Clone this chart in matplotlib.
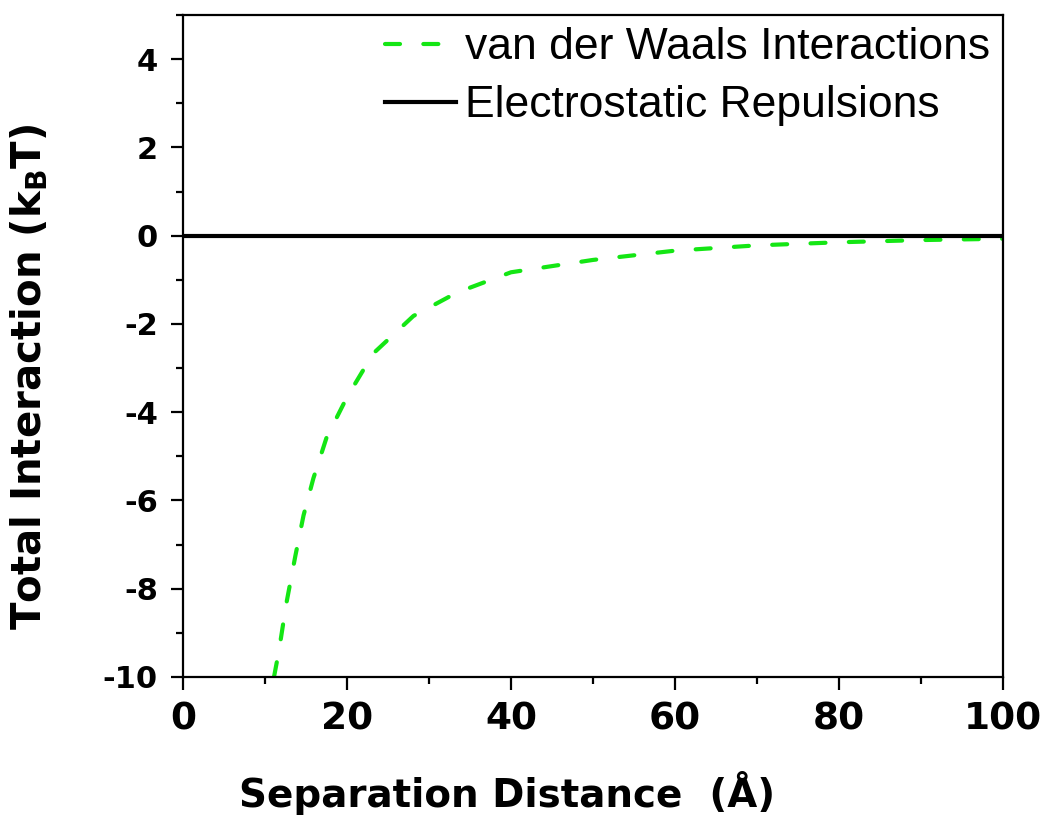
import matplotlib
matplotlib.use("Agg")
import matplotlib.pyplot as plt
from matplotlib.ticker import MultipleLocator

plt.rcParams['font.family'] = ['Liberation Sans', 'DejaVu Sans']
plt.rcParams['axes.unicode_minus'] = False
plt.rcParams['mathtext.fontset'] = 'custom'
plt.rcParams['mathtext.rm'] = 'DejaVu Sans:bold'
plt.rcParams['mathtext.bf'] = 'DejaVu Sans:bold'

# Separation distance (Å) and van der Waals interaction energy (kBT)
vdw_distance = [11.1, 11.7, 12.6, 13.7, 14.7, 15.9, 17.5, 20.0, 23.2, 28.1,
                33.4, 40.0, 50.0, 60.0, 70.0, 80.0, 90.0, 100.0]
vdw_energy = [-10.0, -9.41, -8.34, -7.26, -6.34, -5.5, -4.58, -3.66, -2.67, -1.82,
              -1.29, -0.83, -0.55, -0.34, -0.22, -0.15, -0.10, -0.07]

# Electrostatic repulsion (zero across the range)
es_distance = [0, 100]
es_energy = [0, 0]

x_ticks = [0, 20, 40, 60, 80, 100]
y_ticks = [-10, -8, -6, -4, -2, 0, 2, 4]

fig = plt.figure(figsize=(10.42, 8.19), dpi=100)
ax = fig.add_axes([0.1756, 0.1734, 0.787, 0.8083])

ax.plot(vdw_distance, vdw_energy, color='#14e614', lw=3, ls=(0, (3.6, 5.6)),
        dash_capstyle='round', label='van der Waals Interactions')
ax.plot(es_distance, es_energy, color='black', lw=3,
        label='Electrostatic Repulsions')

ax.set_xlim(0, 100)
ax.set_ylim(-10, 5)
ax.set_xticks(x_ticks)
ax.set_yticks(y_ticks)
ax.xaxis.set_minor_locator(MultipleLocator(10))
ax.yaxis.set_minor_locator(MultipleLocator(1))

for s in ax.spines.values():
    s.set_linewidth(1.6)
ax.tick_params(which='both', direction='out', top=False, right=False, width=1.6)
ax.tick_params(which='major', length=9)
ax.tick_params(which='minor', length=5)
ax.tick_params(axis='x', which='major', pad=9)
ax.tick_params(axis='y', which='major', pad=9)
ax.set_xticklabels([str(t) for t in x_ticks], fontsize=27,
                   fontweight='bold', family='DejaVu Sans')
ax.set_yticklabels([str(t) for t in y_ticks], fontsize=22,
                   fontweight='bold', family='DejaVu Sans')

fig.text(507 / 1042, 12 / 819, 'Separation Distance  (Å)', fontsize=28,
         fontweight='bold', family='DejaVu Sans', ha='center', va='baseline')
fig.text(30 / 1042, 1 - 377 / 819, r'Total Interaction (k$_{\mathbf{B}}$T)',
         fontsize=29, fontweight='bold', family='DejaVu Sans',
         rotation=90, ha='center', va='center')

ax.legend(loc='upper right', frameon=False, fontsize=32,
          handlelength=1.6, handletextpad=0.22, labelspacing=0.38,
          borderaxespad=0.1, borderpad=0.18)

fig.savefig('out.png', dpi=100)
